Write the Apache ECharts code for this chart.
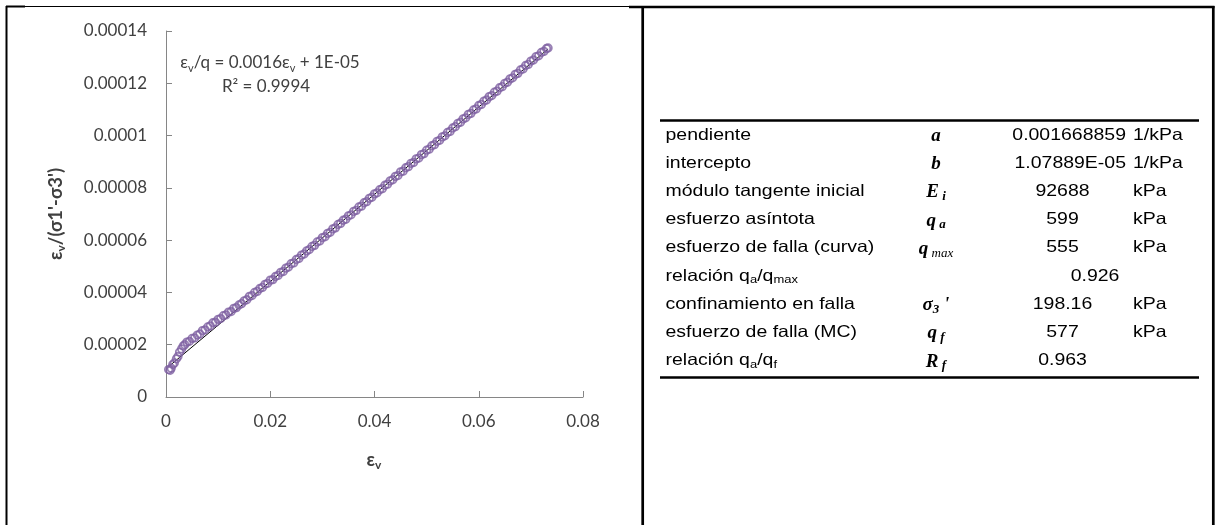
<!DOCTYPE html>
<html>
<head>
<meta charset="utf-8">
<script src="https://cdn.jsdelivr.net/npm/echarts@6/dist/echarts.min.js"></script>
<style>
  html, body { margin: 0; padding: 0; background: #ffffff; }
  #chart { width: 1216px; height: 525px; }
</style>
</head>
<body>
<div id="chart"></div>
<script>
// Volumetric strain (εv) measured during the test
const strain = [
  0.0005, 0.0008, 0.0010, 0.0013, 0.0016, 0.0020, 0.0023, 0.0026, 0.0030, 0.0033,
  0.0036, 0.0040, 0.0045, 0.0050, 0.0055, 0.0060, 0.0065, 0.0070, 0.0075, 0.0080,
  0.0085, 0.0090, 0.0095, 0.0100, 0.0105, 0.0110, 0.0115, 0.0120, 0.0125, 0.0130,
  0.0135, 0.0140, 0.0145, 0.0150, 0.0155, 0.0160, 0.0165, 0.0170, 0.0175, 0.0180,
  0.0185, 0.0190, 0.0195, 0.0200, 0.0205, 0.0210, 0.0215, 0.0220, 0.0225, 0.0230,
  0.0235, 0.0240, 0.0245, 0.0250, 0.0255, 0.0260, 0.0265, 0.0270, 0.0275, 0.0280,
  0.0285, 0.0290, 0.0295, 0.0300, 0.0305, 0.0310, 0.0315, 0.0320, 0.0325, 0.0330,
  0.0335, 0.0340, 0.0345, 0.0350, 0.0355, 0.0360, 0.0365, 0.0370, 0.0375, 0.0380,
  0.0385, 0.0390, 0.0395, 0.0400, 0.0405, 0.0410, 0.0415, 0.0420, 0.0425, 0.0430,
  0.0435, 0.0440, 0.0445, 0.0450, 0.0455, 0.0460, 0.0465, 0.0470, 0.0475, 0.0480,
  0.0485, 0.0490, 0.0495, 0.0500, 0.0505, 0.0510, 0.0515, 0.0520, 0.0525, 0.0530,
  0.0535, 0.0540, 0.0545, 0.0550, 0.0555, 0.0560, 0.0565, 0.0570, 0.0575, 0.0580,
  0.0585, 0.0590, 0.0595, 0.0600, 0.0605, 0.0610, 0.0615, 0.0620, 0.0625, 0.0630,
  0.0635, 0.0640, 0.0645, 0.0650, 0.0655, 0.0660, 0.0665, 0.0670, 0.0675, 0.0680,
  0.0685, 0.0690, 0.0695, 0.0700, 0.0705, 0.0710, 0.0715, 0.0720, 0.0725, 0.0730,
  0.0733
];

// εv / (σ1' - σ3') for each strain value, in 1/kPa
const ratio = [
  1.05e-5, 1.02e-5, 1.10e-5, 1.24e-5, 1.30e-5, 1.46e-5, 1.55e-5, 1.72e-5, 1.84e-5, 1.95e-5,
  2.00e-5, 2.10e-5, 2.13e-5, 2.24e-5, 2.26e-5, 2.37e-5, 2.41e-5, 2.54e-5, 2.57e-5, 2.68e-5,
  2.72e-5, 2.84e-5, 2.86e-5, 2.97e-5, 3.00e-5, 3.11e-5, 3.14e-5, 3.25e-5, 3.27e-5, 3.39e-5,
  3.42e-5, 3.52e-5, 3.57e-5, 3.68e-5, 3.72e-5, 3.85e-5, 3.88e-5, 4.00e-5, 4.04e-5, 4.15e-5,
  4.19e-5, 4.31e-5, 4.35e-5, 4.47e-5, 4.49e-5, 4.61e-5, 4.65e-5, 4.77e-5, 4.80e-5, 4.93e-5,
  4.97e-5, 5.10e-5, 5.13e-5, 5.26e-5, 5.30e-5, 5.43e-5, 5.47e-5, 5.59e-5, 5.64e-5, 5.76e-5,
  5.80e-5, 5.93e-5, 5.97e-5, 6.10e-5, 6.13e-5, 6.26e-5, 6.30e-5, 6.43e-5, 6.47e-5, 6.60e-5,
  6.64e-5, 6.76e-5, 6.80e-5, 6.93e-5, 6.97e-5, 7.10e-5, 7.14e-5, 7.27e-5, 7.30e-5, 7.43e-5,
  7.47e-5, 7.60e-5, 7.64e-5, 7.77e-5, 7.81e-5, 7.93e-5, 7.97e-5, 8.10e-5, 8.14e-5, 8.27e-5,
  8.31e-5, 8.44e-5, 8.47e-5, 8.61e-5, 8.64e-5, 8.77e-5, 8.81e-5, 8.94e-5, 8.97e-5, 9.11e-5,
  9.14e-5, 9.27e-5, 9.31e-5, 9.44e-5, 9.48e-5, 9.61e-5, 9.65e-5, 9.78e-5, 9.82e-5, 9.95e-5,
  9.99e-5, 10.12e-5, 10.16e-5, 10.29e-5, 10.34e-5, 10.47e-5, 10.51e-5, 10.64e-5, 10.68e-5, 10.81e-5,
  10.85e-5, 10.98e-5, 11.02e-5, 11.15e-5, 11.19e-5, 11.32e-5, 11.36e-5, 11.49e-5, 11.53e-5, 11.66e-5,
  11.70e-5, 11.83e-5, 11.87e-5, 12.00e-5, 12.04e-5, 12.17e-5, 12.21e-5, 12.34e-5, 12.38e-5, 12.51e-5,
  12.55e-5, 12.68e-5, 12.72e-5, 12.85e-5, 12.89e-5, 13.02e-5, 13.05e-5, 13.18e-5, 13.22e-5, 13.33e-5,
  13.35e-5
];

// Linear fit of the hyperbolic model: εv/q = a·εv + b
const fitSlope = 0.001668859;     // a, 1/kPa
const fitIntercept = 1.07889e-5;  // b, 1/kPa
const fitEquation = '{m|ε}{s|v}{m|/q = 0.0016ε}{s|v}{m| + 1E-05}';
const fitR2 = 'R² = 0.9994';

// Axis titles
const xTitle = '{m|ε}{s|v}';
const yTitle = '{m|ε}{s|v}{m|/(σ1\'-σ3\')}';

// Summary table of the model parameters
const paramNames = [
  'pendiente',
  'intercepto',
  'módulo tangente inicial',
  'esfuerzo asíntota',
  'esfuerzo de falla (curva)',
  'relación q{s|a}/q{s|max}',
  'confinamiento en falla',
  'esfuerzo de falla (MC)',
  'relación q{s|a}/q{s|f}'
];
const paramSymbols = [
  '{b|a}',
  '{b|b}',
  '{b|E}{bs| i}',
  '{b|q}{bs| a}',
  '{b|q}{is| max}',
  '',
  '{b|σ}{bs|3}{b| \'}',
  '{b|q}{bs| f}',
  '{b|R}{bs| f}'
];
const paramValues = ['0.001668859', '1.07889E-05', '92688', '599', '555', '0.926', '198.16', '577', '0.963'];
const paramUnits = ['1/kPa', '1/kPa', 'kPa', 'kPa', 'kPa', '', 'kPa', 'kPa', ''];

const points = strain.map((x, i) => [x, ratio[i]]);
const xFirst = Math.min(...strain);
const xLast = Math.max(...strain);
const fitLine = [
  [xFirst, fitIntercept + fitSlope * xFirst],
  [xLast, fitIntercept + fitSlope * xLast]
];

const axisColor = '#868686';
const labelColor = '#404040';
const chartFont = 'Lato';
const tableFont = 'Liberation Sans';
const symbolFont = 'Liberation Serif';

const chart = echarts.init(document.getElementById('chart'), null, { renderer: 'canvas' });

// frame around the two panels
function frameLine(x1, y1, x2, y2, w) {
  return {
    type: 'line', silent: true,
    shape: { x1, y1, x2, y2 },
    style: { stroke: '#000', lineWidth: w }
  };
}
const graphics = [
  frameLine(6.5, 6, 6.5, 525, 2),
  frameLine(6, 6.5, 25, 6.5, 2),
  frameLine(25, 6.5, 629, 6.5, 1),
  frameLine(629, 7, 1214.5, 7, 2.5),
  frameLine(642.7, 6, 642.7, 525, 2.7),
  frameLine(1213.3, 6, 1213.3, 525, 2.7),
  // table rules
  frameLine(660, 120.5, 1199, 120.5, 2.6),
  frameLine(660, 377.5, 1199, 377.5, 2.6)
];

// fit equation and R²
const eqRich = {
  m: { fontSize: 17, fontFamily: chartFont, fill: labelColor, lineHeight: 21 },
  s: { fontSize: 11, fontFamily: chartFont, fill: labelColor, lineHeight: 13, verticalAlign: 'bottom' }
};
graphics.push({
  type: 'text', silent: true, x: 270, y: 63,
  style: { text: fitEquation, rich: eqRich, fill: labelColor, align: 'center', verticalAlign: 'middle' }
});
graphics.push({
  type: 'text', silent: true, x: 266, y: 87,
  style: { text: fitR2, fontSize: 17, fontFamily: chartFont, fill: labelColor, align: 'center', verticalAlign: 'middle' }
});

// axis titles (bold, with subscript v)
const titleRich = {
  m: { fontSize: 18.5, fontWeight: 'bold', fontFamily: chartFont, fill: labelColor, lineHeight: 22 },
  s: { fontSize: 12, fontWeight: 'bold', fontFamily: chartFont, fill: labelColor, lineHeight: 14, verticalAlign: 'bottom' }
};
graphics.push({
  type: 'text', silent: true, x: 374, y: 460,
  style: { text: xTitle, rich: titleRich, fill: labelColor, align: 'center', verticalAlign: 'middle' }
});
graphics.push({
  type: 'text', silent: true, x: 56, y: 214, rotation: Math.PI / 2,
  style: { text: yTitle, rich: titleRich, fill: labelColor, align: 'center', verticalAlign: 'middle' }
});

// table rows
const rowTop = 135;
const rowStep = 28.2;
const nameRich = {
  s: { fontSize: 11, fontFamily: tableFont, fill: '#000', lineHeight: 12, verticalAlign: 'bottom' }
};
const symRich = {
  b: { fontSize: 19, fontFamily: symbolFont, fontStyle: 'italic', fontWeight: 'bold', fill: '#000', lineHeight: 22 },
  bs: { fontSize: 13, fontFamily: symbolFont, fontStyle: 'italic', fontWeight: 'bold', fill: '#000', lineHeight: 14, verticalAlign: 'bottom' },
  is: { fontSize: 13, fontFamily: symbolFont, fontStyle: 'italic', fill: '#000', lineHeight: 14, verticalAlign: 'bottom' }
};
paramNames.forEach((name, i) => {
  const y = rowTop + i * rowStep;
  graphics.push({
    type: 'text', silent: true, x: 665.5, y, scaleX: 1.18,
    style: { text: name, fontSize: 16.5, fontFamily: tableFont, fill: '#000', rich: nameRich, align: 'left', verticalAlign: 'middle', lineHeight: 19 }
  });
  if (paramSymbols[i]) {
    graphics.push({
      type: 'text', silent: true, x: 936, y: y + 1,
      style: { text: paramSymbols[i], rich: symRich, fill: '#000', align: 'center', verticalAlign: 'middle' }
    });
  }
  const unitPerKPa = paramUnits[i].indexOf('1/') === 0;
  const noUnit = paramUnits[i] === '';
  const valueX = unitPerKPa ? 1126 : (noUnit && !paramSymbols[i] ? 1095 : 1062.5);
  graphics.push({
    type: 'text', silent: true, x: valueX, y, scaleX: 1.18,
    style: { text: paramValues[i], fontSize: 16.5, fontFamily: tableFont, fill: '#000', align: unitPerKPa ? 'right' : 'center', verticalAlign: 'middle' }
  });
  if (paramUnits[i]) {
    graphics.push({
      type: 'text', silent: true, x: 1133, y, scaleX: 1.18,
      style: { text: paramUnits[i], fontSize: 16.5, fontFamily: tableFont, fill: '#000', align: 'left', verticalAlign: 'middle' }
    });
  }
});

chart.setOption({
  animation: false,
  backgroundColor: '#ffffff',
  grid: { left: 166, top: 31, right: 633, bottom: 128, containLabel: false },
  xAxis: {
    type: 'value', min: 0, max: 0.08, interval: 0.02,
    axisLine: { show: true, lineStyle: { color: axisColor, width: 1 } },
    axisTick: { show: true, inside: true, length: 6, lineStyle: { color: axisColor } },
    splitLine: { show: false },
    axisLabel: {
      margin: 16, fontSize: 17, fontFamily: chartFont, color: labelColor,
      formatter: v => String(+v.toFixed(2))
    }
  },
  yAxis: {
    type: 'value', min: 0, max: 0.00014, interval: 0.00002,
    axisLine: { show: true, lineStyle: { color: axisColor, width: 1 } },
    axisTick: { show: true, inside: true, length: 6, lineStyle: { color: axisColor } },
    splitLine: { show: false },
    axisLabel: {
      margin: 19, fontSize: 17, fontFamily: chartFont, color: labelColor,
      formatter: v => String(+v.toFixed(5))
    }
  },
  series: [
    {
      type: 'line', data: fitLine, showSymbol: false, symbol: 'none',
      lineStyle: { color: '#000', width: 1 },
      z: 2
    },
    {
      type: 'scatter', data: points, symbol: 'circle', symbolSize: 7.5,
      itemStyle: { color: 'rgba(0,0,0,0)', borderColor: '#7F62A3', borderWidth: 1.8 },
      z: 3
    }
  ],
  graphic: graphics
});
</script>
</body>
</html>
